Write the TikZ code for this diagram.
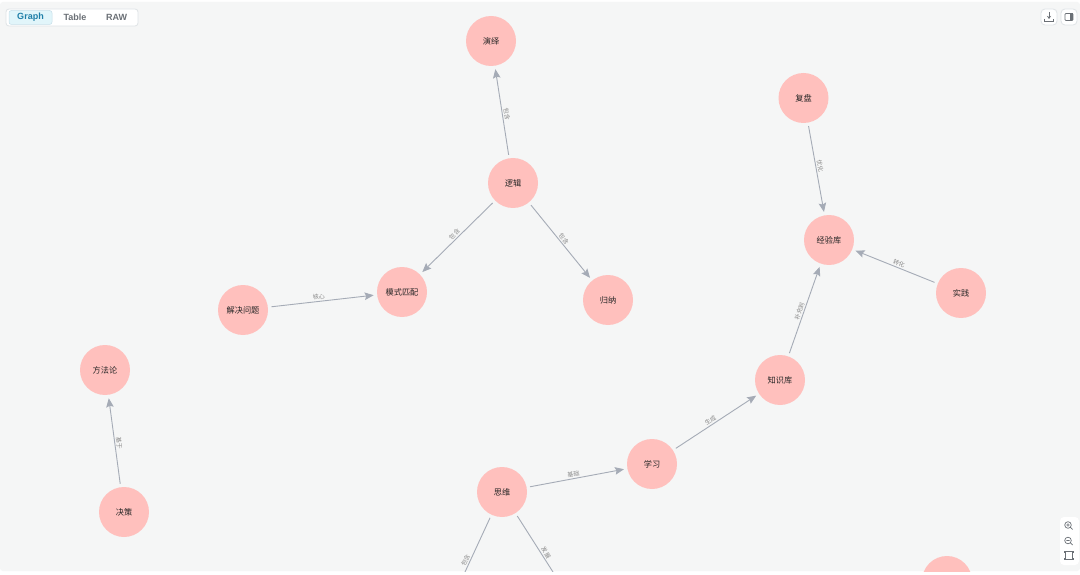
\documentclass[tikz,border=0pt]{standalone}
\usepackage{fontspec}
\setmainfont{Liberation Sans}
\newfontfamily\cjk{Noto Sans CJK SC}
\usetikzlibrary{arrows.meta}
\definecolor{canvasbg}{HTML}{F5F6F6}
\definecolor{framec}{HTML}{DFE3E6}
\definecolor{nodepink}{HTML}{FFC0BD}
\definecolor{edgec}{HTML}{A5ABB6}
\definecolor{labelc}{HTML}{8A8A8A}
\definecolor{uigrey}{HTML}{6B7076}
\definecolor{tabteal}{HTML}{1F7FA8}
\definecolor{tabfill}{HTML}{E1F5FA}
\tikzset{
  x=1pt,y=-1pt,
  concept/.style={circle,fill=nodepink,minimum size=50pt,inner sep=0pt,outer sep=3.5pt,font=\cjk\fontsize{8.2}{10}\selectfont,text=black!85},
  rel/.style={draw=edgec,line width=0.9pt,-{Stealth[length=9pt,width=7.5pt,inset=1.5pt]}},
  relopen/.style={draw=edgec,line width=0.9pt},
  rellabel/.style={sloped,above,inner sep=1.2pt,font=\cjk\fontsize{6}{7}\selectfont,text=labelc},
  tab/.style={font=\bfseries\fontsize{9}{10}\selectfont,text=uigrey,inner sep=0pt},
  uibox/.style={fill=white,draw=framec,line width=0.8pt,rounded corners=3pt},
  icon/.style={draw=uigrey,line width=0.7pt}
}
\begin{document}
\begin{tikzpicture}
\useasboundingbox (0,0) rectangle (1080,575);
\fill[white] (0,0) rectangle (1080,575);
\fill[canvasbg,rounded corners=3pt] (0,2) rectangle (1080,571);
\begin{scope}
\clip (0,2) rectangle (1080,571);
\node[concept] (yanyi) at (491,41) {演绎};
\node[concept] (luoji) at (513,183) {逻辑};
\node[concept] (moshi) at (402,292) {模式匹配};
\node[concept] (guina) at (608,300) {归纳};
\node[concept] (jiejue) at (243,310) {解决问题};
\node[concept] (fangfa) at (105,370) {方法论};
\node[concept] (juece) at (124,512) {决策};
\node[concept] (fupan) at (803.5,98) {复盘};
\node[concept] (jingyan) at (829,240) {经验库};
\node[concept] (shijian) at (961,293) {实践};
\node[concept] (zhishi) at (780,380) {知识库};
\node[concept] (xuexi) at (652,464) {学习};
\node[concept] (siwei) at (502,492) {思维};
\node[concept] (corner) at (947,581) {};
\coordinate (endl) at (465,572);
\coordinate (endr) at (553,572);
\draw[rel] (luoji) -- node[rellabel,pos=0.47]{包含} (yanyi);
\draw[rel] (luoji) -- node[rellabel,pos=0.5]{包含} (moshi);
\draw[rel] (luoji) -- node[rellabel,pos=0.5]{包含} (guina);
\draw[rel] (jiejue) -- node[rellabel,pos=0.47]{核心} (moshi);
\draw[rel] (juece) -- node[rellabel,pos=0.47]{基于} (fangfa);
\draw[rel] (fupan) -- node[rellabel,pos=0.47]{优化} (jingyan);
\draw[rel] (shijian) -- node[rellabel,pos=0.47]{转化} (jingyan);
\draw[rel] (zhishi) -- node[rellabel,pos=0.47]{补充到} (jingyan);
\draw[rel] (xuexi) -- node[rellabel,pos=0.46]{生成} (zhishi);
\draw[rel] (siwei) -- node[rellabel,pos=0.47]{基础} (xuexi);
\draw[relopen] (siwei) -- node[rellabel,pos=0.82]{包含} (endl);
\draw[relopen] (siwei) -- node[rellabel,pos=0.7]{发展} (endr);
\end{scope}
% view tabs
\draw[uibox] (6,9) rectangle (138,26);
\fill[tabfill,draw=tabteal!25,line width=0.5pt,rounded corners=2.5pt] (9,10.5) rectangle (52,24.5);
\node[tab,text=tabteal] (tgraph) at (30.5,17.5) {Graph};
\node[tab] (ttable) at (75,17.5) {Table};
\node[tab] (traw) at (116.5,17.5) {RAW};
% top right buttons
\draw[uibox,rounded corners=4pt] (1041,9) rectangle (1057,25);
\draw[uibox,rounded corners=4pt] (1061,9) rectangle (1077,25);
\draw[icon,-{Stealth[length=3pt,width=4pt]}] (1049,12.5) -- (1049,19);
\draw[icon] (1044.5,19) -- (1044.5,21) -- (1053.5,21) -- (1053.5,19);
\draw[icon,rounded corners=0.8pt] (1065,13.5) rectangle (1073,20.5);
\fill[uigrey] (1070,13.5) rectangle (1073,20.5);
% zoom controls
\fill[white,rounded corners=4pt] (1060,517) rectangle (1079,565);
\draw[icon] (1068,525) circle (3.3pt) (1070.4,527.4) -- (1072.5,529.5) (1066.3,525) -- (1069.7,525) (1068,523.3) -- (1068,526.7);
\draw[icon] (1068,540.5) circle (3.3pt) (1070.4,542.9) -- (1072.5,545) (1066.3,540.5) -- (1069.7,540.5);
\draw[icon] (1065,551.5) rectangle (1072.5,559);
\foreach \px/\py in {1065/551.5,1072.5/551.5,1065/559,1072.5/559}{\fill[uigrey] (\px-1,\py-1) rectangle (\px+1,\py+1);}
\end{tikzpicture}
\end{document}
